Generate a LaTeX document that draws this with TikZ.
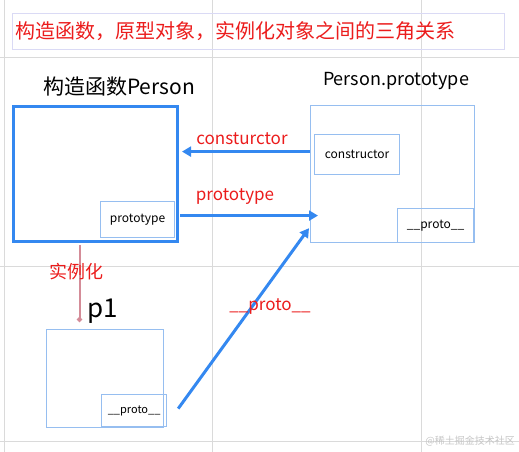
\documentclass[tikz,border=0pt]{standalone}
\usepackage{fontspec}
\setmainfont{Noto Sans CJK SC}
\usepackage{tikz}
\usetikzlibrary{arrows.meta, positioning, calc}
\definecolor{protoblue}   {RGB}{ 52, 136, 240}
\definecolor{paleblue}    {RGB}{150, 190, 240}
\definecolor{titleframe}  {RGB}{218, 218, 245}
\definecolor{labelred}    {RGB}{235,  28,  28}
\definecolor{instpink}    {RGB}{212, 140, 152}
\definecolor{gridgray}    {RGB}{218, 218, 218}

\tikzset{
	objbox/.style={draw=paleblue, line width=1.2pt, inner sep=0pt, anchor=north west},
	slotbox/.style={draw=paleblue, line width=1.2pt, inner sep=0pt, anchor=north west, font=\fontsize{12}{14}\selectfont},
	redlabel/.style={labelred, inner sep=0pt, font=\fontsize{17}{19}\selectfont},
	link/.style={protoblue, line width=3pt, -{Triangle[length=9pt,width=10pt]}}
}

\begin{document}
\begin{tikzpicture}[x=1pt, y=-1pt]
	\useasboundingbox (0,0) rectangle (519,452);
	% background grid
	\draw[gridgray, line width=0.8pt] (4,0) -- (4,452);
	\draw[gridgray, line width=0.8pt] (212,0) -- (212,452);
	\draw[gridgray, line width=0.8pt] (421,0) -- (421,452);
	\draw[gridgray, line width=0.8pt] (0,57) -- (519,57);
	\draw[gridgray, line width=0.8pt] (0,266) -- (519,266);
	\draw[gridgray, line width=0.8pt] (0,441) -- (519,441);

	% title
	\node[draw=titleframe, line width=1pt, anchor=north west, minimum width=492pt, minimum height=36pt, inner sep=0pt] (titlebox) at (12,13) {};
	\node[labelred, anchor=west, inner sep=0pt, font=\fontsize{20}{22}\selectfont] (title) at (15,31) {构造函数，原型对象，实例化对象之间的三角关系};

	% constructor Person
	\node[anchor=center, inner sep=0pt, font=\fontsize{21}{24}\selectfont] (perstitle) at (119,87) {构造函数Person};
	\node[draw=protoblue, line width=3pt, anchor=north west, minimum width=164pt, minimum height=135pt, inner sep=0pt] (pers) at (12,105) {};
	\node[slotbox, minimum width=74pt, minimum height=36pt] (ptype) at (100,201) {prototype};

	% Person.prototype
	\node[anchor=center, inner sep=0pt, font=\fontsize{18}{21}\selectfont] (pboxtitle) at (396,81) {Person.prototype};
	\node[objbox, minimum width=164pt, minimum height=137pt] (pbox) at (310,105) {};
	\node[slotbox, minimum width=85pt, minimum height=40pt] (cbox) at (314,134) {constructor};
	\node[slotbox, minimum width=76pt, minimum height=34pt] (pproto) at (397,208) {\_\_proto\_\_};

	% instance p1
	\node[anchor=center, inner sep=0pt, font=\fontsize{26}{28}\selectfont] (p1title) at (103,311) {p1};
	\node[objbox, minimum width=117pt, minimum height=98pt] (p1) at (46,329) {};
	\node[slotbox, minimum width=65pt, minimum height=32pt, font=\fontsize{11}{13}\selectfont] (p1proto) at (101,394) {\_\_proto\_\_};

	% connectors
	\draw[link] ($(cbox.west)+(-4,-3)$) -- ($(pers.east |- cbox.west)+(3,-3)$);
	\draw[link] ($(ptype.east)+(5,-4)$) -- ($(pbox.west |- ptype.east)+(8,-4)$);
	\draw[link] ($(p1proto.east)+(11,-2)$) -- ($(pbox.south west)+(-1,-15)$);
	\draw[instpink, line width=2pt, -{Circle[length=5pt]}] ($(pers.south)+(-16,2)$) -- ($(pers.south |- p1.north)+(-16,-7)$);

	% labels
	\node[redlabel] (lblcons) at (242,139) {consturctor};
	\node[redlabel] (lblproto) at (235,197) {prototype};
	\node[redlabel] (lbllink) at (270,307) {\_\_proto\_\_};
	\node[redlabel, font=\fontsize{18}{20}\selectfont] (lblinst) at (76,272) {实例化};

	% watermark
	\node[gray!45, anchor=east, inner sep=0pt, font=\fontsize{10}{12}\selectfont] (mark) at (515,441) {@稀土掘金技术社区};
\end{tikzpicture}
\end{document}
